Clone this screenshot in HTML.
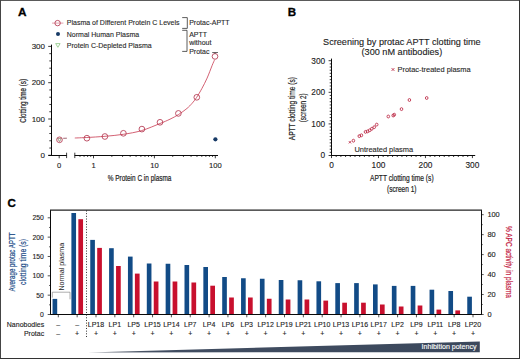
<!DOCTYPE html>
<html><head><meta charset="utf-8"><style>
html,body{margin:0;padding:0;background:#fff;}
svg{display:block;font-family:"Liberation Sans", sans-serif;}
</style></head><body>
<svg width="520" height="359" viewBox="0 0 520 359">
<rect x="0" y="0" width="520" height="359" fill="#fff"/>
<text x="17.9" y="16.0" font-size="11.8" text-anchor="start" fill="#000" font-weight="bold"  stroke="#000" stroke-width="0.3">A</text>
<line x1="52.0" y1="23.1" x2="63.4" y2="23.1" stroke="#c8394f" stroke-width="0.6" opacity="0.8"/>
<circle cx="57.6" cy="23.1" r="2.7" fill="none" stroke="#b33750" stroke-width="0.85"/>
<circle cx="58" cy="34.1" r="2.0" fill="#173a66"/>
<path d="M55.7,43.6 L60.1,43.6 L57.9,47.3 Z" fill="none" stroke="#66b35a" stroke-width="0.6"/>
<text x="66.8" y="25.2" font-size="7.0" text-anchor="start" fill="#2a2a2a" font-weight="normal" stroke="#2a2a2a" stroke-width="0.12" >Plasma of Different Protein C Levels</text>
<text x="66.8" y="36.8" font-size="7.0" text-anchor="start" fill="#2a2a2a" font-weight="normal" stroke="#2a2a2a" stroke-width="0.12" >Normal Human Plasma</text>
<text x="66.8" y="47.5" font-size="7.0" text-anchor="start" fill="#2a2a2a" font-weight="normal" stroke="#2a2a2a" stroke-width="0.12" >Protein C-Depleted Plasma</text>
<path d="M182.2,17.6 H187.3 V28.4 H182.2" fill="none" stroke="#333" stroke-width="0.8"/>
<path d="M182.2,30.3 H187.0 V51.4 H182.2" fill="none" stroke="#333" stroke-width="0.8"/>
<text x="189.2" y="25.1" font-size="7.0" text-anchor="start" fill="#2a2a2a" font-weight="normal" stroke="#2a2a2a" stroke-width="0.12" >Protac-APTT</text>
<text x="189.2" y="36.5" font-size="7.0" text-anchor="start" fill="#2a2a2a" font-weight="normal" stroke="#2a2a2a" stroke-width="0.12" >APTT</text>
<text x="189.2" y="45.2" font-size="7.0" text-anchor="start" fill="#2a2a2a" font-weight="normal" stroke="#2a2a2a" stroke-width="0.12" >without</text>
<text x="189.2" y="53.8" font-size="7.0" text-anchor="start" fill="#2a2a2a" font-weight="normal" stroke="#2a2a2a" stroke-width="0.12" >Protac</text>
<line x1="51.5" y1="44.6" x2="51.5" y2="156" stroke="#0a0a0a" stroke-width="1.0"/>
<line x1="48.20" y1="155.30" x2="51.5" y2="155.30" stroke="#0a0a0a" stroke-width="0.8"/>
<line x1="49.30" y1="148.04" x2="51.5" y2="148.04" stroke="#0a0a0a" stroke-width="0.8"/>
<line x1="49.30" y1="140.78" x2="51.5" y2="140.78" stroke="#0a0a0a" stroke-width="0.8"/>
<line x1="49.30" y1="133.52" x2="51.5" y2="133.52" stroke="#0a0a0a" stroke-width="0.8"/>
<line x1="49.30" y1="126.26" x2="51.5" y2="126.26" stroke="#0a0a0a" stroke-width="0.8"/>
<line x1="48.20" y1="119.00" x2="51.5" y2="119.00" stroke="#0a0a0a" stroke-width="0.8"/>
<line x1="49.30" y1="111.74" x2="51.5" y2="111.74" stroke="#0a0a0a" stroke-width="0.8"/>
<line x1="49.30" y1="104.48" x2="51.5" y2="104.48" stroke="#0a0a0a" stroke-width="0.8"/>
<line x1="49.30" y1="97.22" x2="51.5" y2="97.22" stroke="#0a0a0a" stroke-width="0.8"/>
<line x1="49.30" y1="89.96" x2="51.5" y2="89.96" stroke="#0a0a0a" stroke-width="0.8"/>
<line x1="48.20" y1="82.70" x2="51.5" y2="82.70" stroke="#0a0a0a" stroke-width="0.8"/>
<line x1="49.30" y1="75.44" x2="51.5" y2="75.44" stroke="#0a0a0a" stroke-width="0.8"/>
<line x1="49.30" y1="68.18" x2="51.5" y2="68.18" stroke="#0a0a0a" stroke-width="0.8"/>
<line x1="49.30" y1="60.92" x2="51.5" y2="60.92" stroke="#0a0a0a" stroke-width="0.8"/>
<line x1="49.30" y1="53.66" x2="51.5" y2="53.66" stroke="#0a0a0a" stroke-width="0.8"/>
<line x1="48.20" y1="46.40" x2="51.5" y2="46.40" stroke="#0a0a0a" stroke-width="0.8"/>
<text x="45.0" y="158.0" font-size="8.0" text-anchor="end" fill="#222" font-weight="normal" stroke="#222" stroke-width="0.12" >0</text>
<text x="45.0" y="121.70000000000002" font-size="8.0" text-anchor="end" fill="#222" font-weight="normal" stroke="#222" stroke-width="0.12" >100</text>
<text x="45.0" y="85.40000000000002" font-size="8.0" text-anchor="end" fill="#222" font-weight="normal" stroke="#222" stroke-width="0.12" >200</text>
<text x="45.0" y="49.10000000000002" font-size="8.0" text-anchor="end" fill="#222" font-weight="normal" stroke="#222" stroke-width="0.12" >300</text>
<line x1="48.4" y1="155.5" x2="66.8" y2="155.5" stroke="#0a0a0a" stroke-width="1.0"/>
<line x1="66.6" y1="152.7" x2="66.6" y2="158.1" stroke="#0a0a0a" stroke-width="0.8"/>
<line x1="74.6" y1="155.5" x2="218" y2="155.5" stroke="#0a0a0a" stroke-width="1.0"/>
<line x1="74.8" y1="152.7" x2="74.8" y2="158.1" stroke="#0a0a0a" stroke-width="0.8"/>
<line x1="59.20" y1="155.5" x2="59.20" y2="158.3" stroke="#0a0a0a" stroke-width="0.8"/>
<line x1="93.50" y1="155.5" x2="93.50" y2="158.3" stroke="#0a0a0a" stroke-width="0.8"/>
<line x1="154.40" y1="155.5" x2="154.40" y2="158.3" stroke="#0a0a0a" stroke-width="0.8"/>
<line x1="215.30" y1="155.5" x2="215.30" y2="158.3" stroke="#0a0a0a" stroke-width="0.8"/>
<line x1="79.99" y1="155.5" x2="79.99" y2="157" stroke="#0a0a0a" stroke-width="0.7"/>
<line x1="84.07" y1="155.5" x2="84.07" y2="157" stroke="#0a0a0a" stroke-width="0.7"/>
<line x1="87.60" y1="155.5" x2="87.60" y2="157" stroke="#0a0a0a" stroke-width="0.7"/>
<line x1="90.71" y1="155.5" x2="90.71" y2="157" stroke="#0a0a0a" stroke-width="0.7"/>
<line x1="111.83" y1="155.5" x2="111.83" y2="157" stroke="#0a0a0a" stroke-width="0.7"/>
<line x1="122.56" y1="155.5" x2="122.56" y2="157" stroke="#0a0a0a" stroke-width="0.7"/>
<line x1="130.17" y1="155.5" x2="130.17" y2="157" stroke="#0a0a0a" stroke-width="0.7"/>
<line x1="136.07" y1="155.5" x2="136.07" y2="157" stroke="#0a0a0a" stroke-width="0.7"/>
<line x1="140.89" y1="155.5" x2="140.89" y2="157" stroke="#0a0a0a" stroke-width="0.7"/>
<line x1="144.97" y1="155.5" x2="144.97" y2="157" stroke="#0a0a0a" stroke-width="0.7"/>
<line x1="148.50" y1="155.5" x2="148.50" y2="157" stroke="#0a0a0a" stroke-width="0.7"/>
<line x1="151.61" y1="155.5" x2="151.61" y2="157" stroke="#0a0a0a" stroke-width="0.7"/>
<line x1="172.73" y1="155.5" x2="172.73" y2="157" stroke="#0a0a0a" stroke-width="0.7"/>
<line x1="183.46" y1="155.5" x2="183.46" y2="157" stroke="#0a0a0a" stroke-width="0.7"/>
<line x1="191.07" y1="155.5" x2="191.07" y2="157" stroke="#0a0a0a" stroke-width="0.7"/>
<line x1="196.97" y1="155.5" x2="196.97" y2="157" stroke="#0a0a0a" stroke-width="0.7"/>
<line x1="201.79" y1="155.5" x2="201.79" y2="157" stroke="#0a0a0a" stroke-width="0.7"/>
<line x1="205.87" y1="155.5" x2="205.87" y2="157" stroke="#0a0a0a" stroke-width="0.7"/>
<line x1="209.40" y1="155.5" x2="209.40" y2="157" stroke="#0a0a0a" stroke-width="0.7"/>
<line x1="212.51" y1="155.5" x2="212.51" y2="157" stroke="#0a0a0a" stroke-width="0.7"/>
<text x="59.2" y="168.0" font-size="7.6" text-anchor="middle" fill="#222" font-weight="normal" stroke="#222" stroke-width="0.12" >0</text>
<text x="93.5" y="168.0" font-size="7.6" text-anchor="middle" fill="#222" font-weight="normal" stroke="#222" stroke-width="0.12" >1</text>
<text x="154.4" y="168.0" font-size="7.6" text-anchor="middle" fill="#222" font-weight="normal" stroke="#222" stroke-width="0.12" >10</text>
<text x="215.3" y="168.0" font-size="7.6" text-anchor="middle" fill="#222" font-weight="normal" stroke="#222" stroke-width="0.12" >100</text>
<text x="107.7" y="181.0" font-size="8.6" font-weight="normal" text-anchor="start" fill="#222" stroke="#222" stroke-width="0.2" textLength="63.7" lengthAdjust="spacingAndGlyphs"  >% Protein C in plasma</text>
<text x="25.8" y="122.8" font-size="8.5" font-weight="normal" text-anchor="start" fill="#222" stroke="#222" stroke-width="0.2" textLength="43.9" lengthAdjust="spacingAndGlyphs" transform="rotate(-90 25.8 122.8)" >Clotting time (s)</text>
<line x1="63.2" y1="138.3" x2="66.9" y2="138.2" stroke="#8a4050" stroke-width="0.8"/>
<path d="M74.8,138.0 C76.80,137.92 81.77,137.78 86.8,137.5 C91.83,137.22 98.90,136.83 105,136.3 C111.10,135.77 117.30,135.25 123.4,134.3 C129.50,133.35 135.50,132.40 141.6,130.6 C147.70,128.80 155.27,125.40 160,123.5 C164.73,121.60 166.93,120.68 170,119.2 C173.07,117.72 175.57,116.40 178.4,114.6 C181.23,112.80 184.73,110.27 187,108.4 C189.27,106.53 190.42,105.20 192,103.4 C193.58,101.60 194.83,100.12 196.5,97.6 C198.17,95.08 200.23,91.55 202,88.3 C203.77,85.05 205.40,81.93 207.1,78.1 C208.80,74.27 210.95,68.35 212.2,65.3 C213.45,62.25 214.20,60.72 214.6,59.8" fill="none" stroke="#c8394f" stroke-width="0.8"/>
<path d="M57.6,138.4 L61.4,138.4 L59.5,141.6 Z" fill="none" stroke="#6b5a3a" stroke-width="0.6"/>
<circle cx="59.5" cy="139.8" r="2.85" fill="none" stroke="#b33750" stroke-width="0.85"/>
<circle cx="86.9" cy="138.2" r="2.85" fill="none" stroke="#b33750" stroke-width="0.85"/>
<circle cx="104.9" cy="136.5" r="2.85" fill="none" stroke="#b33750" stroke-width="0.85"/>
<circle cx="123.4" cy="133.3" r="2.85" fill="none" stroke="#b33750" stroke-width="0.85"/>
<circle cx="141.9" cy="129.1" r="2.85" fill="none" stroke="#b33750" stroke-width="0.85"/>
<circle cx="160" cy="122.3" r="2.85" fill="none" stroke="#b33750" stroke-width="0.85"/>
<circle cx="178.4" cy="113.4" r="2.85" fill="none" stroke="#b33750" stroke-width="0.85"/>
<circle cx="196.8" cy="97.3" r="2.85" fill="none" stroke="#b33750" stroke-width="0.85"/>
<circle cx="215.0" cy="56.4" r="2.85" fill="none" stroke="#b33750" stroke-width="0.85"/>
<line x1="215.0" y1="52.5" x2="215.0" y2="54.0" stroke="#5a3a44" stroke-width="0.7"/>
<line x1="212.2" y1="52.5" x2="218.0" y2="52.5" stroke="#2a2a2a" stroke-width="0.7"/>
<circle cx="215.4" cy="139.3" r="2.1" fill="#173a66"/>
<text x="287.8" y="16.0" font-size="11.6" text-anchor="start" fill="#000" font-weight="bold"  stroke="#000" stroke-width="0.3">B</text>
<text x="401.9" y="44.6" font-size="9.15" text-anchor="middle" fill="#222" font-weight="normal" stroke="#222" stroke-width="0.12" >Screening by protac APTT clotting time</text>
<text x="401.9" y="55.0" font-size="9.15" text-anchor="middle" fill="#222" font-weight="normal" stroke="#222" stroke-width="0.12" >(300 nM antibodies)</text>
<line x1="331.5" y1="58.6" x2="331.5" y2="156" stroke="#0a0a0a" stroke-width="1.0"/>
<line x1="330.8" y1="155.5" x2="475.2" y2="155.5" stroke="#0a0a0a" stroke-width="1.0"/>
<line x1="328.60" y1="155.50" x2="331.5" y2="155.50" stroke="#0a0a0a" stroke-width="0.8"/>
<line x1="331.50" y1="155.5" x2="331.50" y2="158.10" stroke="#0a0a0a" stroke-width="0.8"/>
<line x1="329.70" y1="152.34" x2="331.5" y2="152.34" stroke="#0a0a0a" stroke-width="0.8"/>
<line x1="336.20" y1="155.5" x2="336.20" y2="157.00" stroke="#0a0a0a" stroke-width="0.8"/>
<line x1="329.70" y1="149.18" x2="331.5" y2="149.18" stroke="#0a0a0a" stroke-width="0.8"/>
<line x1="340.89" y1="155.5" x2="340.89" y2="157.00" stroke="#0a0a0a" stroke-width="0.8"/>
<line x1="329.70" y1="146.02" x2="331.5" y2="146.02" stroke="#0a0a0a" stroke-width="0.8"/>
<line x1="345.59" y1="155.5" x2="345.59" y2="157.00" stroke="#0a0a0a" stroke-width="0.8"/>
<line x1="329.70" y1="142.86" x2="331.5" y2="142.86" stroke="#0a0a0a" stroke-width="0.8"/>
<line x1="350.29" y1="155.5" x2="350.29" y2="157.00" stroke="#0a0a0a" stroke-width="0.8"/>
<line x1="329.70" y1="139.70" x2="331.5" y2="139.70" stroke="#0a0a0a" stroke-width="0.8"/>
<line x1="354.99" y1="155.5" x2="354.99" y2="157.00" stroke="#0a0a0a" stroke-width="0.8"/>
<line x1="329.70" y1="136.54" x2="331.5" y2="136.54" stroke="#0a0a0a" stroke-width="0.8"/>
<line x1="359.68" y1="155.5" x2="359.68" y2="157.00" stroke="#0a0a0a" stroke-width="0.8"/>
<line x1="329.70" y1="133.38" x2="331.5" y2="133.38" stroke="#0a0a0a" stroke-width="0.8"/>
<line x1="364.38" y1="155.5" x2="364.38" y2="157.00" stroke="#0a0a0a" stroke-width="0.8"/>
<line x1="329.70" y1="130.22" x2="331.5" y2="130.22" stroke="#0a0a0a" stroke-width="0.8"/>
<line x1="369.08" y1="155.5" x2="369.08" y2="157.00" stroke="#0a0a0a" stroke-width="0.8"/>
<line x1="329.70" y1="127.06" x2="331.5" y2="127.06" stroke="#0a0a0a" stroke-width="0.8"/>
<line x1="373.77" y1="155.5" x2="373.77" y2="157.00" stroke="#0a0a0a" stroke-width="0.8"/>
<line x1="328.60" y1="123.90" x2="331.5" y2="123.90" stroke="#0a0a0a" stroke-width="0.8"/>
<line x1="378.47" y1="155.5" x2="378.47" y2="158.10" stroke="#0a0a0a" stroke-width="0.8"/>
<line x1="329.70" y1="120.74" x2="331.5" y2="120.74" stroke="#0a0a0a" stroke-width="0.8"/>
<line x1="383.17" y1="155.5" x2="383.17" y2="157.00" stroke="#0a0a0a" stroke-width="0.8"/>
<line x1="329.70" y1="117.58" x2="331.5" y2="117.58" stroke="#0a0a0a" stroke-width="0.8"/>
<line x1="387.86" y1="155.5" x2="387.86" y2="157.00" stroke="#0a0a0a" stroke-width="0.8"/>
<line x1="329.70" y1="114.42" x2="331.5" y2="114.42" stroke="#0a0a0a" stroke-width="0.8"/>
<line x1="392.56" y1="155.5" x2="392.56" y2="157.00" stroke="#0a0a0a" stroke-width="0.8"/>
<line x1="329.70" y1="111.26" x2="331.5" y2="111.26" stroke="#0a0a0a" stroke-width="0.8"/>
<line x1="397.26" y1="155.5" x2="397.26" y2="157.00" stroke="#0a0a0a" stroke-width="0.8"/>
<line x1="329.70" y1="108.10" x2="331.5" y2="108.10" stroke="#0a0a0a" stroke-width="0.8"/>
<line x1="401.95" y1="155.5" x2="401.95" y2="157.00" stroke="#0a0a0a" stroke-width="0.8"/>
<line x1="329.70" y1="104.94" x2="331.5" y2="104.94" stroke="#0a0a0a" stroke-width="0.8"/>
<line x1="406.65" y1="155.5" x2="406.65" y2="157.00" stroke="#0a0a0a" stroke-width="0.8"/>
<line x1="329.70" y1="101.78" x2="331.5" y2="101.78" stroke="#0a0a0a" stroke-width="0.8"/>
<line x1="411.35" y1="155.5" x2="411.35" y2="157.00" stroke="#0a0a0a" stroke-width="0.8"/>
<line x1="329.70" y1="98.62" x2="331.5" y2="98.62" stroke="#0a0a0a" stroke-width="0.8"/>
<line x1="416.05" y1="155.5" x2="416.05" y2="157.00" stroke="#0a0a0a" stroke-width="0.8"/>
<line x1="329.70" y1="95.46" x2="331.5" y2="95.46" stroke="#0a0a0a" stroke-width="0.8"/>
<line x1="420.74" y1="155.5" x2="420.74" y2="157.00" stroke="#0a0a0a" stroke-width="0.8"/>
<line x1="328.60" y1="92.30" x2="331.5" y2="92.30" stroke="#0a0a0a" stroke-width="0.8"/>
<line x1="425.44" y1="155.5" x2="425.44" y2="158.10" stroke="#0a0a0a" stroke-width="0.8"/>
<line x1="329.70" y1="89.14" x2="331.5" y2="89.14" stroke="#0a0a0a" stroke-width="0.8"/>
<line x1="430.14" y1="155.5" x2="430.14" y2="157.00" stroke="#0a0a0a" stroke-width="0.8"/>
<line x1="329.70" y1="85.98" x2="331.5" y2="85.98" stroke="#0a0a0a" stroke-width="0.8"/>
<line x1="434.83" y1="155.5" x2="434.83" y2="157.00" stroke="#0a0a0a" stroke-width="0.8"/>
<line x1="329.70" y1="82.82" x2="331.5" y2="82.82" stroke="#0a0a0a" stroke-width="0.8"/>
<line x1="439.53" y1="155.5" x2="439.53" y2="157.00" stroke="#0a0a0a" stroke-width="0.8"/>
<line x1="329.70" y1="79.66" x2="331.5" y2="79.66" stroke="#0a0a0a" stroke-width="0.8"/>
<line x1="444.23" y1="155.5" x2="444.23" y2="157.00" stroke="#0a0a0a" stroke-width="0.8"/>
<line x1="329.70" y1="76.50" x2="331.5" y2="76.50" stroke="#0a0a0a" stroke-width="0.8"/>
<line x1="448.93" y1="155.5" x2="448.93" y2="157.00" stroke="#0a0a0a" stroke-width="0.8"/>
<line x1="329.70" y1="73.34" x2="331.5" y2="73.34" stroke="#0a0a0a" stroke-width="0.8"/>
<line x1="453.62" y1="155.5" x2="453.62" y2="157.00" stroke="#0a0a0a" stroke-width="0.8"/>
<line x1="329.70" y1="70.18" x2="331.5" y2="70.18" stroke="#0a0a0a" stroke-width="0.8"/>
<line x1="458.32" y1="155.5" x2="458.32" y2="157.00" stroke="#0a0a0a" stroke-width="0.8"/>
<line x1="329.70" y1="67.02" x2="331.5" y2="67.02" stroke="#0a0a0a" stroke-width="0.8"/>
<line x1="463.02" y1="155.5" x2="463.02" y2="157.00" stroke="#0a0a0a" stroke-width="0.8"/>
<line x1="329.70" y1="63.86" x2="331.5" y2="63.86" stroke="#0a0a0a" stroke-width="0.8"/>
<line x1="467.71" y1="155.5" x2="467.71" y2="157.00" stroke="#0a0a0a" stroke-width="0.8"/>
<line x1="328.60" y1="60.70" x2="331.5" y2="60.70" stroke="#0a0a0a" stroke-width="0.8"/>
<line x1="472.41" y1="155.5" x2="472.41" y2="158.10" stroke="#0a0a0a" stroke-width="0.8"/>
<text x="325.2" y="158.3" font-size="8.3" text-anchor="end" fill="#222" font-weight="normal" stroke="#222" stroke-width="0.12" >0</text>
<text x="331.5" y="168.4" font-size="8.3" text-anchor="middle" fill="#222" font-weight="normal" stroke="#222" stroke-width="0.12" >0</text>
<text x="325.2" y="126.7" font-size="8.3" text-anchor="end" fill="#222" font-weight="normal" stroke="#222" stroke-width="0.12" >100</text>
<text x="378.47" y="168.4" font-size="8.3" text-anchor="middle" fill="#222" font-weight="normal" stroke="#222" stroke-width="0.12" >100</text>
<text x="325.2" y="95.1" font-size="8.3" text-anchor="end" fill="#222" font-weight="normal" stroke="#222" stroke-width="0.12" >200</text>
<text x="425.44" y="168.4" font-size="8.3" text-anchor="middle" fill="#222" font-weight="normal" stroke="#222" stroke-width="0.12" >200</text>
<text x="325.2" y="63.5" font-size="8.3" text-anchor="end" fill="#222" font-weight="normal" stroke="#222" stroke-width="0.12" >300</text>
<text x="472.41" y="168.4" font-size="8.3" text-anchor="middle" fill="#222" font-weight="normal" stroke="#222" stroke-width="0.12" >300</text>
<path d="M391.6,68.1 L394.4,70.9 M394.4,68.1 L391.6,70.9" stroke="#b81c3a" stroke-width="0.8"/>
<text x="397.5" y="72.4" font-size="7.45" text-anchor="start" fill="#2a2a2a" font-weight="normal" stroke="#2a2a2a" stroke-width="0.12" >Protac-treated plasma</text>
<text x="354.4" y="152.4" font-size="7.45" text-anchor="start" fill="#2a2a2a" font-weight="normal" stroke="#2a2a2a" stroke-width="0.12" >Untreated plasma</text>
<text x="370.0" y="181.2" font-size="8.6" font-weight="normal" text-anchor="start" fill="#222" stroke="#222" stroke-width="0.2" textLength="63.6" lengthAdjust="spacingAndGlyphs"  >APTT clotting time (s)</text>
<text x="387.0" y="191.5" font-size="8.6" font-weight="normal" text-anchor="start" fill="#222" stroke="#222" stroke-width="0.2" textLength="29.5" lengthAdjust="spacingAndGlyphs"  >(screen 1)</text>
<text x="295.2" y="140.2" font-size="8.6" font-weight="normal" text-anchor="start" fill="#222" stroke="#222" stroke-width="0.2" textLength="63.2" lengthAdjust="spacingAndGlyphs" transform="rotate(-90 295.2 140.2)" >APTT clotting time (s)</text>
<text x="305.6" y="122.3" font-size="8.4" font-weight="normal" text-anchor="start" fill="#222" stroke="#222" stroke-width="0.2" textLength="28.9" lengthAdjust="spacingAndGlyphs" transform="rotate(-90 305.6 122.3)" >(screen 2)</text>
<path d="M348.8,141.1 L351.1,143.4 M351.1,141.1 L348.8,143.4" stroke="#b81c3a" stroke-width="0.8"/>
<ellipse cx="353.4" cy="140.7" rx="1.3" ry="1.45" fill="none" stroke="#b81c3a" stroke-width="0.8"/>
<ellipse cx="359.3" cy="136.1" rx="1.3" ry="1.45" fill="none" stroke="#b81c3a" stroke-width="0.8"/>
<ellipse cx="361.4" cy="135.3" rx="1.3" ry="1.45" fill="none" stroke="#b81c3a" stroke-width="0.8"/>
<ellipse cx="365.5" cy="131.9" rx="1.3" ry="1.45" fill="none" stroke="#b81c3a" stroke-width="0.8"/>
<ellipse cx="367.6" cy="131.4" rx="1.3" ry="1.45" fill="none" stroke="#b81c3a" stroke-width="0.8"/>
<ellipse cx="369.7" cy="130.3" rx="1.3" ry="1.45" fill="none" stroke="#b81c3a" stroke-width="0.8"/>
<ellipse cx="371.8" cy="128.8" rx="1.3" ry="1.45" fill="none" stroke="#b81c3a" stroke-width="0.8"/>
<ellipse cx="374.2" cy="127.2" rx="1.3" ry="1.45" fill="none" stroke="#b81c3a" stroke-width="0.8"/>
<ellipse cx="376.7" cy="124.6" rx="1.3" ry="1.45" fill="none" stroke="#b81c3a" stroke-width="0.8"/>
<ellipse cx="388.3" cy="116.5" rx="1.3" ry="1.45" fill="none" stroke="#b81c3a" stroke-width="0.8"/>
<ellipse cx="393.2" cy="115.5" rx="1.3" ry="1.45" fill="none" stroke="#b81c3a" stroke-width="0.8"/>
<ellipse cx="394.3" cy="114.7" rx="1.3" ry="1.45" fill="none" stroke="#b81c3a" stroke-width="0.8"/>
<ellipse cx="401.5" cy="109.1" rx="1.3" ry="1.45" fill="none" stroke="#b81c3a" stroke-width="0.8"/>
<ellipse cx="409.4" cy="100" rx="1.3" ry="1.45" fill="none" stroke="#b81c3a" stroke-width="0.8"/>
<ellipse cx="426.7" cy="98" rx="1.3" ry="1.45" fill="none" stroke="#b81c3a" stroke-width="0.8"/>
<text x="7.6" y="207.2" font-size="11.6" text-anchor="start" fill="#000" font-weight="bold"  stroke="#000" stroke-width="0.3">C</text>
<rect x="52.55" y="298.9" width="4.65" height="15.60" fill="#124b86"/>
<rect x="71.40" y="213.0" width="4.65" height="101.50" fill="#124b86"/>
<rect x="78.35" y="219.2" width="4.7" height="95.30" fill="#c8102e"/>
<rect x="90.25" y="239.9" width="4.65" height="74.60" fill="#124b86"/>
<rect x="97.20" y="247.9" width="4.7" height="66.60" fill="#c8102e"/>
<rect x="109.10" y="248.2" width="4.65" height="66.30" fill="#124b86"/>
<rect x="116.05" y="266" width="4.7" height="48.50" fill="#c8102e"/>
<rect x="127.95" y="256.6" width="4.65" height="57.90" fill="#124b86"/>
<rect x="134.90" y="273.6" width="4.7" height="40.90" fill="#c8102e"/>
<rect x="146.80" y="263.5" width="4.65" height="51.00" fill="#124b86"/>
<rect x="153.75" y="281.5" width="4.7" height="33.00" fill="#c8102e"/>
<rect x="165.65" y="263.75" width="4.65" height="50.75" fill="#124b86"/>
<rect x="172.60" y="281.5" width="4.7" height="33.00" fill="#c8102e"/>
<rect x="184.50" y="265" width="4.65" height="49.50" fill="#124b86"/>
<rect x="191.45" y="282.5" width="4.7" height="32.00" fill="#c8102e"/>
<rect x="203.35" y="267" width="4.65" height="47.50" fill="#124b86"/>
<rect x="210.30" y="285.7" width="4.7" height="28.80" fill="#c8102e"/>
<rect x="222.20" y="277" width="4.65" height="37.50" fill="#124b86"/>
<rect x="229.15" y="297.5" width="4.7" height="17.00" fill="#c8102e"/>
<rect x="241.05" y="278.25" width="4.65" height="36.25" fill="#124b86"/>
<rect x="248.00" y="297.5" width="4.7" height="17.00" fill="#c8102e"/>
<rect x="259.90" y="278.75" width="4.65" height="35.75" fill="#124b86"/>
<rect x="266.85" y="298.75" width="4.7" height="15.75" fill="#c8102e"/>
<rect x="278.75" y="280" width="4.65" height="34.50" fill="#124b86"/>
<rect x="285.70" y="299.5" width="4.7" height="15.00" fill="#c8102e"/>
<rect x="297.60" y="280.25" width="4.65" height="34.25" fill="#124b86"/>
<rect x="304.55" y="299.5" width="4.7" height="15.00" fill="#c8102e"/>
<rect x="316.45" y="281.3" width="4.65" height="33.20" fill="#124b86"/>
<rect x="323.40" y="300.6" width="4.7" height="13.90" fill="#c8102e"/>
<rect x="335.30" y="283.1" width="4.65" height="31.40" fill="#124b86"/>
<rect x="342.25" y="302.7" width="4.7" height="11.80" fill="#c8102e"/>
<rect x="354.15" y="283.1" width="4.65" height="31.40" fill="#124b86"/>
<rect x="361.10" y="302.7" width="4.7" height="11.80" fill="#c8102e"/>
<rect x="373.00" y="284.4" width="4.65" height="30.10" fill="#124b86"/>
<rect x="379.95" y="304.5" width="4.7" height="10.00" fill="#c8102e"/>
<rect x="391.85" y="285.9" width="4.65" height="28.60" fill="#124b86"/>
<rect x="398.80" y="306.5" width="4.7" height="8.00" fill="#c8102e"/>
<rect x="410.70" y="285.9" width="4.65" height="28.60" fill="#124b86"/>
<rect x="417.65" y="305.5" width="4.7" height="9.00" fill="#c8102e"/>
<rect x="429.55" y="289.7" width="4.65" height="24.80" fill="#124b86"/>
<rect x="436.50" y="309.6" width="4.7" height="4.90" fill="#c8102e"/>
<rect x="448.40" y="291" width="4.65" height="23.50" fill="#124b86"/>
<rect x="455.35" y="310.4" width="4.7" height="4.10" fill="#c8102e"/>
<rect x="467.25" y="296.7" width="4.65" height="17.80" fill="#124b86"/>
<line x1="50.5" y1="210.0" x2="50.5" y2="314.5" stroke="#0a0a0a" stroke-width="1.0"/>
<line x1="481.5" y1="210.0" x2="481.5" y2="314.5" stroke="#0a0a0a" stroke-width="1.0"/>
<line x1="50.0" y1="210.0" x2="482.0" y2="210.0" stroke="#222" stroke-width="1.25"/>
<line x1="50.1" y1="314.5" x2="481.9" y2="314.5" stroke="#0a0a0a" stroke-width="1.0"/>
<line x1="47.70" y1="314.50" x2="50.5" y2="314.50" stroke="#0a0a0a" stroke-width="0.7"/>
<line x1="49.10" y1="304.83" x2="50.5" y2="304.83" stroke="#0a0a0a" stroke-width="0.7"/>
<line x1="47.70" y1="295.16" x2="50.5" y2="295.16" stroke="#0a0a0a" stroke-width="0.7"/>
<line x1="49.10" y1="285.49" x2="50.5" y2="285.49" stroke="#0a0a0a" stroke-width="0.7"/>
<line x1="47.70" y1="275.82" x2="50.5" y2="275.82" stroke="#0a0a0a" stroke-width="0.7"/>
<line x1="49.10" y1="266.15" x2="50.5" y2="266.15" stroke="#0a0a0a" stroke-width="0.7"/>
<line x1="47.70" y1="256.48" x2="50.5" y2="256.48" stroke="#0a0a0a" stroke-width="0.7"/>
<line x1="49.10" y1="246.81" x2="50.5" y2="246.81" stroke="#0a0a0a" stroke-width="0.7"/>
<line x1="47.70" y1="237.14" x2="50.5" y2="237.14" stroke="#0a0a0a" stroke-width="0.7"/>
<line x1="49.10" y1="227.47" x2="50.5" y2="227.47" stroke="#0a0a0a" stroke-width="0.7"/>
<line x1="47.70" y1="217.80" x2="50.5" y2="217.80" stroke="#0a0a0a" stroke-width="0.7"/>
<text x="43.8" y="316.9" font-size="6.8" text-anchor="end" fill="#222" font-weight="normal" stroke="#222" stroke-width="0.12" >0</text>
<text x="43.8" y="297.56" font-size="6.8" text-anchor="end" fill="#222" font-weight="normal" stroke="#222" stroke-width="0.12" >50</text>
<text x="43.8" y="278.22" font-size="6.8" text-anchor="end" fill="#222" font-weight="normal" stroke="#222" stroke-width="0.12" >100</text>
<text x="43.8" y="258.88" font-size="6.8" text-anchor="end" fill="#222" font-weight="normal" stroke="#222" stroke-width="0.12" >150</text>
<text x="43.8" y="239.54" font-size="6.8" text-anchor="end" fill="#222" font-weight="normal" stroke="#222" stroke-width="0.12" >200</text>
<text x="43.8" y="220.2" font-size="6.8" text-anchor="end" fill="#222" font-weight="normal" stroke="#222" stroke-width="0.12" >250</text>
<line x1="481.5" y1="314.50" x2="483.70" y2="314.50" stroke="#0a0a0a" stroke-width="0.7"/>
<line x1="481.5" y1="304.52" x2="482.70" y2="304.52" stroke="#0a0a0a" stroke-width="0.7"/>
<line x1="481.5" y1="294.54" x2="483.70" y2="294.54" stroke="#0a0a0a" stroke-width="0.7"/>
<line x1="481.5" y1="284.56" x2="482.70" y2="284.56" stroke="#0a0a0a" stroke-width="0.7"/>
<line x1="481.5" y1="274.58" x2="483.70" y2="274.58" stroke="#0a0a0a" stroke-width="0.7"/>
<line x1="481.5" y1="264.60" x2="482.70" y2="264.60" stroke="#0a0a0a" stroke-width="0.7"/>
<line x1="481.5" y1="254.62" x2="483.70" y2="254.62" stroke="#0a0a0a" stroke-width="0.7"/>
<line x1="481.5" y1="244.64" x2="482.70" y2="244.64" stroke="#0a0a0a" stroke-width="0.7"/>
<line x1="481.5" y1="234.66" x2="483.70" y2="234.66" stroke="#0a0a0a" stroke-width="0.7"/>
<line x1="481.5" y1="224.68" x2="482.70" y2="224.68" stroke="#0a0a0a" stroke-width="0.7"/>
<line x1="481.5" y1="214.70" x2="483.70" y2="214.70" stroke="#0a0a0a" stroke-width="0.7"/>
<text x="487.4" y="317.1" font-size="7.4" text-anchor="start" fill="#222" font-weight="normal" stroke="#222" stroke-width="0.12" >0</text>
<text x="487.4" y="297.14" font-size="7.4" text-anchor="start" fill="#222" font-weight="normal" stroke="#222" stroke-width="0.12" >20</text>
<text x="487.4" y="277.18" font-size="7.4" text-anchor="start" fill="#222" font-weight="normal" stroke="#222" stroke-width="0.12" >40</text>
<text x="487.4" y="257.22" font-size="7.4" text-anchor="start" fill="#222" font-weight="normal" stroke="#222" stroke-width="0.12" >60</text>
<text x="487.4" y="237.26" font-size="7.4" text-anchor="start" fill="#222" font-weight="normal" stroke="#222" stroke-width="0.12" >80</text>
<text x="487.4" y="217.3" font-size="7.4" text-anchor="start" fill="#222" font-weight="normal" stroke="#222" stroke-width="0.12" >100</text>
<line x1="58.30" y1="314.5" x2="58.30" y2="317.3" stroke="#0a0a0a" stroke-width="0.7"/>
<line x1="77.15" y1="314.5" x2="77.15" y2="317.3" stroke="#0a0a0a" stroke-width="0.7"/>
<line x1="96.00" y1="314.5" x2="96.00" y2="317.3" stroke="#0a0a0a" stroke-width="0.7"/>
<line x1="114.85" y1="314.5" x2="114.85" y2="317.3" stroke="#0a0a0a" stroke-width="0.7"/>
<line x1="133.70" y1="314.5" x2="133.70" y2="317.3" stroke="#0a0a0a" stroke-width="0.7"/>
<line x1="152.55" y1="314.5" x2="152.55" y2="317.3" stroke="#0a0a0a" stroke-width="0.7"/>
<line x1="171.40" y1="314.5" x2="171.40" y2="317.3" stroke="#0a0a0a" stroke-width="0.7"/>
<line x1="190.25" y1="314.5" x2="190.25" y2="317.3" stroke="#0a0a0a" stroke-width="0.7"/>
<line x1="209.10" y1="314.5" x2="209.10" y2="317.3" stroke="#0a0a0a" stroke-width="0.7"/>
<line x1="227.95" y1="314.5" x2="227.95" y2="317.3" stroke="#0a0a0a" stroke-width="0.7"/>
<line x1="246.80" y1="314.5" x2="246.80" y2="317.3" stroke="#0a0a0a" stroke-width="0.7"/>
<line x1="265.65" y1="314.5" x2="265.65" y2="317.3" stroke="#0a0a0a" stroke-width="0.7"/>
<line x1="284.50" y1="314.5" x2="284.50" y2="317.3" stroke="#0a0a0a" stroke-width="0.7"/>
<line x1="303.35" y1="314.5" x2="303.35" y2="317.3" stroke="#0a0a0a" stroke-width="0.7"/>
<line x1="322.20" y1="314.5" x2="322.20" y2="317.3" stroke="#0a0a0a" stroke-width="0.7"/>
<line x1="341.05" y1="314.5" x2="341.05" y2="317.3" stroke="#0a0a0a" stroke-width="0.7"/>
<line x1="359.90" y1="314.5" x2="359.90" y2="317.3" stroke="#0a0a0a" stroke-width="0.7"/>
<line x1="378.75" y1="314.5" x2="378.75" y2="317.3" stroke="#0a0a0a" stroke-width="0.7"/>
<line x1="397.60" y1="314.5" x2="397.60" y2="317.3" stroke="#0a0a0a" stroke-width="0.7"/>
<line x1="416.45" y1="314.5" x2="416.45" y2="317.3" stroke="#0a0a0a" stroke-width="0.7"/>
<line x1="435.30" y1="314.5" x2="435.30" y2="317.3" stroke="#0a0a0a" stroke-width="0.7"/>
<line x1="454.15" y1="314.5" x2="454.15" y2="317.3" stroke="#0a0a0a" stroke-width="0.7"/>
<line x1="473.00" y1="314.5" x2="473.00" y2="317.3" stroke="#0a0a0a" stroke-width="0.7"/>
<line x1="86.5" y1="210.5" x2="86.5" y2="338.6" stroke="#1a1a1a" stroke-width="0.9" stroke-dasharray="1 1.67"/>
<path d="M52.3,297.6 V292.2 H70 V299.3" fill="none" stroke="#777" stroke-width="0.6"/>
<text x="64.4" y="290.6" font-size="7.1" fill="#222" transform="rotate(-90 64.4 290.6)">Normal plasma</text>
<text x="15.2" y="291.5" font-size="8.7" font-weight="normal" text-anchor="start" fill="#1d4d88" stroke="#1d4d88" stroke-width="0.2" textLength="59.0" lengthAdjust="spacingAndGlyphs" transform="rotate(-90 15.2 291.5)" >Average protac APTT</text>
<text x="26.0" y="285.0" font-size="8.8" font-weight="normal" text-anchor="start" fill="#1d4d88" stroke="#1d4d88" stroke-width="0.2" textLength="46.0" lengthAdjust="spacingAndGlyphs" transform="rotate(-90 26.0 285.0)" >clotting time (s)</text>
<text x="505.6" y="226" font-size="8.6" font-weight="normal" text-anchor="start" fill="#c2203f" stroke="#c2203f" stroke-width="0.2" textLength="72" lengthAdjust="spacingAndGlyphs" transform="rotate(90 505.6 226)" >% APC activity in plasma</text>
<text x="44.2" y="327.0" font-size="7.0" text-anchor="end" fill="#222" font-weight="normal" stroke="#222" stroke-width="0.12" >Nanobodies</text>
<text x="44.2" y="335.5" font-size="7.0" text-anchor="end" fill="#222" font-weight="normal" stroke="#222" stroke-width="0.12" >Protac</text>
<text x="58.3" y="326.8" font-size="7.0" text-anchor="middle" fill="#222" font-weight="normal" stroke="#222" stroke-width="0.12" >–</text>
<text x="58.3" y="336.3" font-size="7.0" text-anchor="middle" fill="#222" font-weight="normal" stroke="#222" stroke-width="0.12" >–</text>
<text x="77.15" y="326.8" font-size="7.0" text-anchor="middle" fill="#222" font-weight="normal" stroke="#222" stroke-width="0.12" >–</text>
<text x="77.15" y="336.3" font-size="7.0" text-anchor="middle" fill="#222" font-weight="normal" stroke="#222" stroke-width="0.12" >+</text>
<text x="96.0" y="326.8" font-size="7.0" text-anchor="middle" fill="#222" font-weight="normal" stroke="#222" stroke-width="0.12" >LP18</text>
<text x="96.0" y="336.3" font-size="7.0" text-anchor="middle" fill="#222" font-weight="normal" stroke="#222" stroke-width="0.12" >+</text>
<text x="114.85" y="326.8" font-size="7.0" text-anchor="middle" fill="#222" font-weight="normal" stroke="#222" stroke-width="0.12" >LP1</text>
<text x="114.85" y="336.3" font-size="7.0" text-anchor="middle" fill="#222" font-weight="normal" stroke="#222" stroke-width="0.12" >+</text>
<text x="133.7" y="326.8" font-size="7.0" text-anchor="middle" fill="#222" font-weight="normal" stroke="#222" stroke-width="0.12" >LP5</text>
<text x="133.7" y="336.3" font-size="7.0" text-anchor="middle" fill="#222" font-weight="normal" stroke="#222" stroke-width="0.12" >+</text>
<text x="152.55" y="326.8" font-size="7.0" text-anchor="middle" fill="#222" font-weight="normal" stroke="#222" stroke-width="0.12" >LP15</text>
<text x="152.55" y="336.3" font-size="7.0" text-anchor="middle" fill="#222" font-weight="normal" stroke="#222" stroke-width="0.12" >+</text>
<text x="171.4" y="326.8" font-size="7.0" text-anchor="middle" fill="#222" font-weight="normal" stroke="#222" stroke-width="0.12" >LP14</text>
<text x="171.4" y="336.3" font-size="7.0" text-anchor="middle" fill="#222" font-weight="normal" stroke="#222" stroke-width="0.12" >+</text>
<text x="190.25" y="326.8" font-size="7.0" text-anchor="middle" fill="#222" font-weight="normal" stroke="#222" stroke-width="0.12" >LP7</text>
<text x="190.25" y="336.3" font-size="7.0" text-anchor="middle" fill="#222" font-weight="normal" stroke="#222" stroke-width="0.12" >+</text>
<text x="209.1" y="326.8" font-size="7.0" text-anchor="middle" fill="#222" font-weight="normal" stroke="#222" stroke-width="0.12" >LP4</text>
<text x="209.1" y="336.3" font-size="7.0" text-anchor="middle" fill="#222" font-weight="normal" stroke="#222" stroke-width="0.12" >+</text>
<text x="227.95" y="326.8" font-size="7.0" text-anchor="middle" fill="#222" font-weight="normal" stroke="#222" stroke-width="0.12" >LP6</text>
<text x="227.95" y="336.3" font-size="7.0" text-anchor="middle" fill="#222" font-weight="normal" stroke="#222" stroke-width="0.12" >+</text>
<text x="246.8" y="326.8" font-size="7.0" text-anchor="middle" fill="#222" font-weight="normal" stroke="#222" stroke-width="0.12" >LP3</text>
<text x="246.8" y="336.3" font-size="7.0" text-anchor="middle" fill="#222" font-weight="normal" stroke="#222" stroke-width="0.12" >+</text>
<text x="265.65" y="326.8" font-size="7.0" text-anchor="middle" fill="#222" font-weight="normal" stroke="#222" stroke-width="0.12" >LP12</text>
<text x="265.65" y="336.3" font-size="7.0" text-anchor="middle" fill="#222" font-weight="normal" stroke="#222" stroke-width="0.12" >+</text>
<text x="284.5" y="326.8" font-size="7.0" text-anchor="middle" fill="#222" font-weight="normal" stroke="#222" stroke-width="0.12" >LP19</text>
<text x="284.5" y="336.3" font-size="7.0" text-anchor="middle" fill="#222" font-weight="normal" stroke="#222" stroke-width="0.12" >+</text>
<text x="303.35" y="326.8" font-size="7.0" text-anchor="middle" fill="#222" font-weight="normal" stroke="#222" stroke-width="0.12" >LP21</text>
<text x="303.35" y="336.3" font-size="7.0" text-anchor="middle" fill="#222" font-weight="normal" stroke="#222" stroke-width="0.12" >+</text>
<text x="322.2" y="326.8" font-size="7.0" text-anchor="middle" fill="#222" font-weight="normal" stroke="#222" stroke-width="0.12" >LP10</text>
<text x="322.2" y="336.3" font-size="7.0" text-anchor="middle" fill="#222" font-weight="normal" stroke="#222" stroke-width="0.12" >+</text>
<text x="341.05" y="326.8" font-size="7.0" text-anchor="middle" fill="#222" font-weight="normal" stroke="#222" stroke-width="0.12" >LP13</text>
<text x="341.05" y="336.3" font-size="7.0" text-anchor="middle" fill="#222" font-weight="normal" stroke="#222" stroke-width="0.12" >+</text>
<text x="359.9" y="326.8" font-size="7.0" text-anchor="middle" fill="#222" font-weight="normal" stroke="#222" stroke-width="0.12" >LP16</text>
<text x="359.9" y="336.3" font-size="7.0" text-anchor="middle" fill="#222" font-weight="normal" stroke="#222" stroke-width="0.12" >+</text>
<text x="378.75" y="326.8" font-size="7.0" text-anchor="middle" fill="#222" font-weight="normal" stroke="#222" stroke-width="0.12" >LP17</text>
<text x="378.75" y="336.3" font-size="7.0" text-anchor="middle" fill="#222" font-weight="normal" stroke="#222" stroke-width="0.12" >+</text>
<text x="397.6" y="326.8" font-size="7.0" text-anchor="middle" fill="#222" font-weight="normal" stroke="#222" stroke-width="0.12" >LP2</text>
<text x="397.6" y="336.3" font-size="7.0" text-anchor="middle" fill="#222" font-weight="normal" stroke="#222" stroke-width="0.12" >+</text>
<text x="416.45" y="326.8" font-size="7.0" text-anchor="middle" fill="#222" font-weight="normal" stroke="#222" stroke-width="0.12" >LP9</text>
<text x="416.45" y="336.3" font-size="7.0" text-anchor="middle" fill="#222" font-weight="normal" stroke="#222" stroke-width="0.12" >+</text>
<text x="435.3" y="326.8" font-size="7.0" text-anchor="middle" fill="#222" font-weight="normal" stroke="#222" stroke-width="0.12" >LP11</text>
<text x="435.3" y="336.3" font-size="7.0" text-anchor="middle" fill="#222" font-weight="normal" stroke="#222" stroke-width="0.12" >+</text>
<text x="454.15" y="326.8" font-size="7.0" text-anchor="middle" fill="#222" font-weight="normal" stroke="#222" stroke-width="0.12" >LP8</text>
<text x="454.15" y="336.3" font-size="7.0" text-anchor="middle" fill="#222" font-weight="normal" stroke="#222" stroke-width="0.12" >+</text>
<text x="473.0" y="326.8" font-size="7.0" text-anchor="middle" fill="#222" font-weight="normal" stroke="#222" stroke-width="0.12" >LP20</text>
<text x="473.0" y="336.3" font-size="7.0" text-anchor="middle" fill="#222" font-weight="normal" stroke="#222" stroke-width="0.12" >+</text>
<defs><linearGradient id="tg" x1="88" y1="0" x2="480" y2="0" gradientUnits="userSpaceOnUse"><stop offset="0" stop-color="#80868f"/><stop offset="0.07" stop-color="#535c6b"/><stop offset="0.2" stop-color="#414d61"/><stop offset="1" stop-color="#3b485c"/></linearGradient></defs>
<path d="M87.6,352.5 L479.8,341.4 L479.8,352.2 Z" fill="url(#tg)"/>
<text x="421.6" y="349.0" font-size="7.05" text-anchor="start" fill="#fff" font-weight="normal" stroke="#fff" stroke-width="0.12" >Inhibition potency</text>
<rect x="0" y="0" width="520" height="1" fill="#5a5a5a"/><rect x="0" y="0" width="1" height="359" fill="#454545"/><rect x="519" y="0" width="1" height="359" fill="#333"/><rect x="0" y="358" width="520" height="1" fill="#333"/>
</svg>
</body></html>
